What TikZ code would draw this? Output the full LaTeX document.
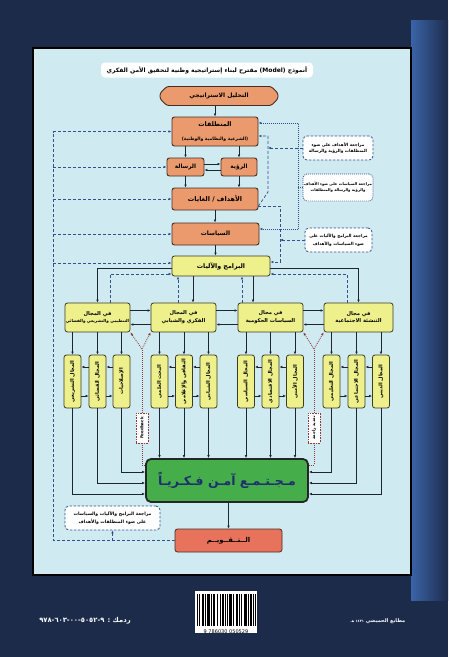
\documentclass[tikz,border=0pt]{standalone}
\usepackage{fontspec}
\setmainfont{DejaVu Sans}
\newfontfamily\arabicfont[Script=Arabic]{DejaVu Sans}
\TeXXeTstate=1
\usetikzlibrary{arrows.meta,shapes.misc,calc}
\newcommand{\ar}[1]{{\arabicfont\bfseries\beginR #1\endR}}
\newcommand{\fs}[1]{\fontsize{#1}{#1}\selectfont}
\definecolor{navy}{HTML}{1D2B4B}
\definecolor{stripblue}{HTML}{3A64A8}
\definecolor{panel}{HTML}{CFEAF0}
\definecolor{orangebox}{HTML}{EA9A6C}
\definecolor{obd}{HTML}{4A2E22}
\definecolor{yellowbox}{HTML}{EEF08C}
\definecolor{ybd}{HTML}{3C3C22}
\definecolor{greenbox}{HTML}{45AE4B}
\definecolor{redbox}{HTML}{E8735C}
\definecolor{dashblue}{HTML}{2F528C}
\definecolor{linedark}{HTML}{1C2633}
\definecolor{fbred}{HTML}{8E3B3B}
\definecolor{greentext}{HTML}{1F2F6E}
\begin{document}
\begin{tikzpicture}[x=1pt,y=-1pt,
  ob/.style={draw=obd, fill=orangebox, line width=0.9pt, rounded corners=2.5pt, inner sep=0pt, align=center},
  yb/.style={draw=ybd, fill=yellowbox, line width=0.8pt, rounded corners=2.5pt, inner sep=0pt, align=center},
  subb/.style={yb, minimum width=17pt, minimum height=53pt},
  dom/.style={yb, minimum width=65pt, minimum height=29pt, font=\fs{5.2}},
  note/.style={draw=dashblue, dash pattern=on 2.5pt off 1.5pt, fill=white, rounded corners=4pt, line width=0.8pt, align=center, inner sep=0pt, font=\fs{4.2}},
  fbox/.style={draw=fbred, dash pattern=on 0.8pt off 0.8pt, fill=white, line width=0.6pt, inner sep=0pt, minimum width=12pt, minimum height=30pt},
  tip/.style={-{Latex[length=3pt,width=2.6pt]}},
  sol/.style={draw=linedark, line width=0.6pt, tip},
  dsh/.style={draw=dashblue, line width=0.7pt, dash pattern=on 3pt off 2pt, tip},
  dotl/.style={draw=fbred, line width=0.8pt, dash pattern=on 0.9pt off 1.1pt, tip},
  dotb/.style={draw=dashblue, line width=0.8pt, dash pattern=on 0.9pt off 1.1pt, tip}
]
% background
\fill[navy] (0,0) rectangle (448,657);
\useasboundingbox (0,0) rectangle (448,657);
\shade[left color=stripblue, right color=navy] (411,20) rectangle (448,600);
\draw[fill=panel, draw=black, line width=1.2pt] (33,48) rectangle (411,575);

% title
\node[fill=white, rounded corners=4pt, minimum width=212pt, minimum height=15pt, inner sep=0pt, font=\fs{6}] (title) at (207,70)
  {\ar{أنموذج \beginL(Model)\endL{} مقترح لبناء إستراتيجية وطنية لتحقيق الأمن الفكري}};

% main column
\node[ob, chamfered rectangle, chamfered rectangle xsep=6pt, minimum width=118pt, minimum height=19pt, font=\fs{6}] (tahlil) at (219,96) {\ar{التحليل الاستراتيجي}};
\node[ob, minimum width=86pt, minimum height=29pt] (mant) at (215,131.5) {{\fs{6.3}\ar{المنطلقات}}\\[2pt]{\fs{4.5}\ar{(الشرعية والنظامية والوطنية)}}};
\node[ob, minimum width=37pt, minimum height=18pt, font=\fs{5.8}] (risala) at (185.5,167) {\ar{الرسالة}};
\node[ob, minimum width=36pt, minimum height=18pt, font=\fs{5.8}] (ruya) at (239,167) {\ar{الرؤية}};
\node[ob, minimum width=86pt, minimum height=22pt, font=\fs{6.5}] (ahdaf) at (215,199) {\ar{الأهداف / الغايات}};
\node[ob, minimum width=87pt, minimum height=22pt, font=\fs{6}] (siyasat) at (215.5,234) {\ar{السياسات}};
\node[yb, minimum width=98pt, minimum height=20pt, font=\fs{6.3}] (baramij) at (221,266) {\ar{البرامج والآليات}};

% domains
\node[dom] (d1) at (97.5,317.5) {\ar{في المجال}\\[1.5pt]{\fs{4.1}\ar{التنظيمي والتشريعي والقضائي}}};
\node[dom] (d2) at (183.5,317.5) {\ar{في المجال}\\[1.5pt]\ar{الفكري والشبابي}};
\node[dom] (d3) at (270.5,317.5) {\ar{في مجال}\\[1.5pt]\ar{السياسات الحكومية}};
\node[dom, minimum width=69pt] (d4) at (358.5,317.5) {\ar{في مجال}\\[1.5pt]\ar{التنشئة الاجتماعية}};

% sub boxes
\foreach \n/\x/\t in {s11/72.5/المجال التشريعي, s12/97.5/المجال القضائي, s13/121.5/الإصلاحيات,
                       s21/159.5/البحث العلمي, s22/184/الثقافي والإعلامي, s23/208.5/المجال الشبابي,
                       s31/246/المجال السياسي, s32/270.5/المجال الاقتصادي, s33/295/المجال الأمني,
                       s41/331.5/المجال التعليمي, s42/356.5/المجال الاجتماعي, s43/381/المجال الديني}
  \node[subb] (\n) at (\x,381.5) {\rotatebox{90}{\fs{5}\ar{\t}}};

% green and evaluation
\node[draw=black!85, fill=greenbox, line width=1.8pt, rounded corners=5pt, minimum width=162pt, minimum height=43pt, inner sep=0pt, text=greentext, font=\fs{12.5}] (green) at (227,480.5) {\ar{مـجـتـمـع آمـن فـكـريـاً}};
\node[draw=obd, fill=redbox, line width=0.8pt, rounded corners=2.5pt, minimum width=107pt, minimum height=23pt, inner sep=0pt, font=\fs{6.8}] (taqwim) at (228.5,540.5) {\ar{الــتــقــويــم}};

% notes
\node[note, minimum width=70pt, minimum height=24pt] (n1) at (338,148) {\ar{مراجعة الأهداف على ضوء}\\[1.5pt]\ar{المنطلقات والرؤية والرسالة}};
\node[note, dash pattern=on 0.9pt off 1.1pt, minimum width=70pt, minimum height=27pt, font=\fs{3.8}] (n2) at (338,187.5) {\ar{مراجعة السياسات على ضوء الأهداف}\\[1.5pt]\ar{والرؤية والرسالة والمنطلقات}};
\node[note, minimum width=67pt, minimum height=24pt] (n3) at (338.5,240) {\ar{مراجعة البرامج والآليات على}\\[1.5pt]\ar{ضوء السياسات والأهداف}};
\node[note, minimum width=95pt, minimum height=24pt, font=\fs{4.5}] (n4) at (112.5,518) {\ar{مراجعة البرامج والآليات والسياسات}\\[1.5pt]\ar{على ضوء المنطلقات والأهداف}};

% feedback boxes
\node[fbox] (fb1) at (142,428) {\rotatebox{90}{\fs{4}\bfseries Feedback}};
\node[fbox] (fb2) at (314,428) {\rotatebox{90}{\fs{4.2}\ar{تغذية راجعة}}};

% ---- connectors: main column
\draw[sol] (tahlil.south -| mant.north) -- (mant.north);
\draw[sol] (mant.south -| risala.north) -- (risala.north);
\draw[sol] (mant.south -| ruya.north) -- (ruya.north);
\draw[sol] ([yshift=3pt]risala.east) -- ([yshift=3pt]ruya.west);
\draw[sol] ([yshift=-3pt]ruya.west) -- ([yshift=-3pt]risala.east);
\draw[sol] (risala.south) -- (risala.south |- ahdaf.north);
\draw[sol] (ruya.south) -- (ruya.south |- ahdaf.north);
\draw[sol] (ahdaf.south) -- (ahdaf.south |- siyasat.north);
\draw[sol] (siyasat.south) -- (siyasat.south |- baramij.north);

% programmes to domains
\draw[sol] ([yshift=-2pt]baramij.west) -| (d1.north);
\draw[sol] ([yshift=-2pt]baramij.east) -| (d4.north);
\draw[sol] ([xshift=9.5pt]d2.north |- baramij.south) -- ([xshift=9.5pt]d2.north);
\draw[sol] ([xshift=-17.5pt]d3.north |- baramij.south) -- ([xshift=-17.5pt]d3.north);
\draw[dsh] ([xshift=-5.5pt]d2.north) -- ([xshift=-5.5pt]d2.north |- baramij.south);
\draw[dsh] ([xshift=-28.5pt]d3.north) -- ([xshift=-28.5pt]d3.north |- baramij.south);
\draw[dsh] ([xshift=12.5pt]d1.north) |- ([yshift=-8pt]baramij.west);
\draw[dsh] ([xshift=-11.5pt]d4.north) |- ([yshift=-8pt]baramij.east);

% domain to domain
\foreach \a/\b in {d1/d2, d2/d3, d3/d4} {
  \draw[sol] ([yshift=7pt]\a.east) -- ([yshift=7pt]\b.west);
  \draw[sol] ([yshift=-7pt]\b.west) -- ([yshift=-7pt]\a.east);
}

% domain to sub boxes
\foreach \d/\s in {d1/s11, d1/s12, d1/s13, d2/s21, d2/s22, d2/s23, d3/s31, d3/s32, d3/s33, d4/s41, d4/s42, d4/s43}
  \draw[sol] (\s.north |- \d.south) -- (\s.north);

% sub boxes among themselves
\foreach \a/\b in {s11/s12, s12/s13, s21/s22, s22/s23, s31/s32, s32/s33, s41/s42, s42/s43} {
  \draw[sol] ([yshift=14.5pt]\b.west) -- ([yshift=14.5pt]\a.east);
  \draw[sol] ([yshift=-14.5pt]\a.east) -- ([yshift=-14.5pt]\b.west);
}

% sub boxes to the green box
\foreach \s in {s21, s22, s23, s31, s32, s33}
  \draw[sol] (\s.south) -- (\s.south |- green.north);
\draw[sol] (s11.south) |- ([yshift=-13.5pt]green.west);
\draw[sol] (s12.south) |- ([yshift=-2.5pt]green.west);
\draw[sol] (s13.south) |- ([yshift=8.5pt]green.west);
\draw[sol] (s43.south) |- ([yshift=-13.5pt]green.east);
\draw[sol] (s42.south) |- ([yshift=-2.5pt]green.east);
\draw[sol] (s41.south) |- ([yshift=8.5pt]green.east);

% feedback loops
\coordinate (v1) at (142,349);
\coordinate (v2) at (314,349);
\draw[dotl, -] ([yshift=15.5pt]green.west) -| (fb1.south);
\draw[dotl, -] (fb1.north) -- (v1);
\draw[dotl] (v1) -- (d1.south east);
\draw[dotl] (v1) -- (d2.south west);
\draw[dotl, -] ([yshift=15.5pt]green.east) -| (fb2.south);
\draw[dotl, -] (fb2.north) -- (v2);
\draw[dotl] (v2) -- (d3.south east);
\draw[dotl] (v2) -- (d4.south west);

% green to evaluation
\draw[sol] (green.south -| taqwim.north) -- (taqwim.north);

% left evaluation loop
\coordinate (lb) at (53,540.5);
\coordinate (lt) at (53,131.5);
\draw[dsh, -] (taqwim.west) -- (lb) -- (lt);
\draw[dsh] (lt) -- (mant.west);
\draw[dsh] (risala.west -| lb) -- (risala.west);
\draw[dsh] (ahdaf.west -| lb) -- (ahdaf.west);
\draw[dsh] (siyasat.west -| lb) -- (siyasat.west);
\draw[dsh] ([yshift=3pt]baramij.west -| lb) -- ([yshift=3pt]baramij.west);
\draw[dsh] (n4.south |- lb) -- (n4.south);

% right review loops
\coordinate (r1t) at (268,136);
\coordinate (r1b) at (268,192);
\draw[dsh] ([yshift=-7pt]ahdaf.east) -- (r1b) -- (r1t) -- ([yshift=-4.5pt]mant.east);
\draw[dsh] (n1.west) -- (n1.west -| r1t);
\coordinate (r2t) at (298,123);
\coordinate (r2b) at (298,229);
\draw[dotb] (r2b) -- (siyasat.east |- r2b);
\draw[dotb, -] (r2b) -- (r2t);
\draw[dotb] (r2t) -- (mant.east |- r2t);
\draw[dotb, -] (n2.west) -- (n2.west -| r2t);
\coordinate (r3t) at (280,206);
\coordinate (r3b) at (280,262);
\draw[dsh] ([yshift=-7pt]ahdaf.east) -- (r3t) -- (r3b) -- ([yshift=4pt]baramij.east);
\draw[dsh] (n3.west) -- (n3.west -| r3t);

% bottom of the cover
\node[text=white, font=\fs{6.8}, anchor=center] (isbn) at (85,621)
  {\ar{ردمك : \beginL\hbox{٩٧٨}-\hbox{٦٠٣}-\hbox{٠٠}-\hbox{٥٠٥٢}-\hbox{٩}\endL}};
\node[text=white, font=\fs{5}, anchor=center] (press) at (378,621) {\ar{مطابع الحميضي {\fs{3.5}١٤٣١ هـ}}};
\fill[white] (195,591) rectangle (257,633);
\foreach \x/\w in {0/1,2/1,5/2,8/1,10/3,14/1,16/2,20/1,23/1,25/2,28/1,30/1,32/3,36/1,39/2,42/1,44/1,47/3,51/1,53/2,56/1,58/1}
  \fill[black] (197+\x,594) rectangle ++(\w,32);
\node[font=\fs{5}, anchor=north] (bardigits) at (226,626.5) {9 786030 050529};
\end{tikzpicture}
\end{document}
